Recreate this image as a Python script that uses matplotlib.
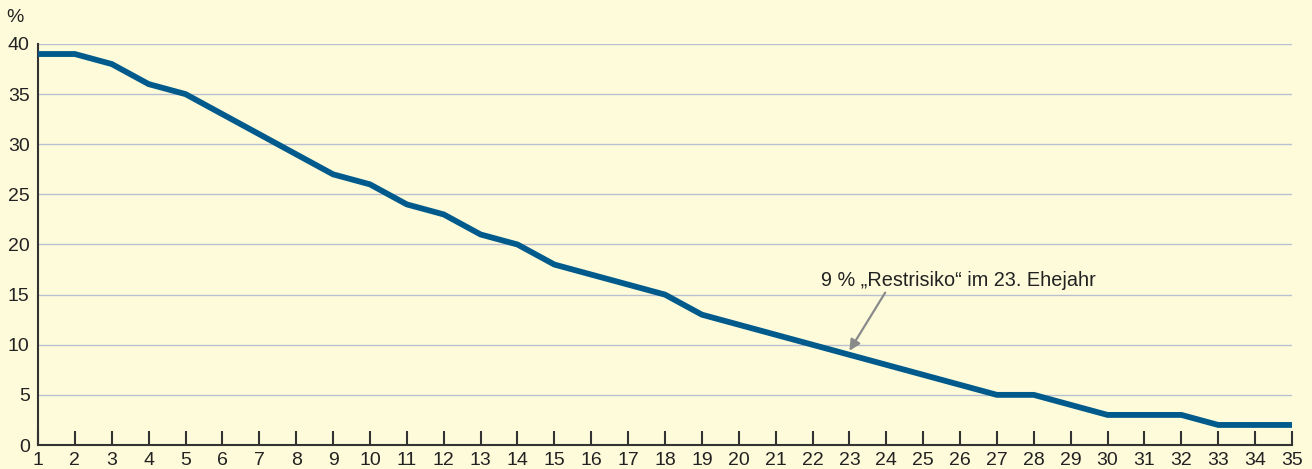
import matplotlib
matplotlib.use("Agg")
import matplotlib.pyplot as plt

# Ehejahr und Scheidungsrisiko (%)
years = list(range(1, 36))
risk = [39, 39, 38, 36, 35, 33, 31, 29, 27, 26,
        24, 23, 21, 20, 18, 17, 16, 15, 13, 12,
        11, 10, 9, 8, 7, 6, 5, 5, 4, 3,
        3, 3, 2, 2, 2]
y_ticks = [0, 5, 10, 15, 20, 25, 30, 35, 40]
note_text = "9 % \u201eRestrisiko\u201c im 23. Ehejahr"
note_year = 23

bg = "#fefbdb"
line_color = "#005a8c"
grid_color = "#b9c0d0"

plt.rcParams["font.family"] = ["Liberation Sans", "DejaVu Sans"]

fig = plt.figure(figsize=(13.12, 4.69), dpi=100, facecolor=bg)
ax = fig.add_axes([38 / 1312, 24 / 469, 1254 / 1312, 401 / 469])
ax.set_facecolor(bg)

ax.plot(years, risk, color=line_color, lw=4.2, solid_joinstyle="miter", zorder=3)

ax.set_xlim(1, 35)
ax.set_ylim(0, 40)
ax.set_yticks(y_ticks)
ax.set_xticks(years)
ax.yaxis.grid(True, color=grid_color, lw=1)
ax.set_axisbelow(True)

for s in ["top", "right"]:
    ax.spines[s].set_visible(False)
for s in ["left", "bottom"]:
    ax.spines[s].set_color("#333333")
    ax.spines[s].set_linewidth(1.5)

ax.tick_params(axis="x", direction="in", length=10, width=1.5, color="#333333",
               labelsize=14, pad=5, labelcolor="#222222")
ax.tick_params(axis="y", length=0, labelsize=14, pad=6, labelcolor="#222222")

ax.text(-0.018, 1.045, "%", transform=ax.transAxes, fontsize=14,
        color="#222222", ha="center", va="bottom")

# Hinweis mit Pfeil
ax.text(25.95, 16.4, note_text, ha="center", va="center",
        fontsize=14.3, color="#222222")
ax.annotate("", xy=(note_year, risk[note_year - 1] + 0.4),
            xytext=(23.97, 15.2),
            arrowprops=dict(arrowstyle="-|>", color="#8a8a8a", lw=1.6,
                            shrinkA=0, shrinkB=0, mutation_scale=16))

fig.savefig("out.png", dpi=100, facecolor=bg)
